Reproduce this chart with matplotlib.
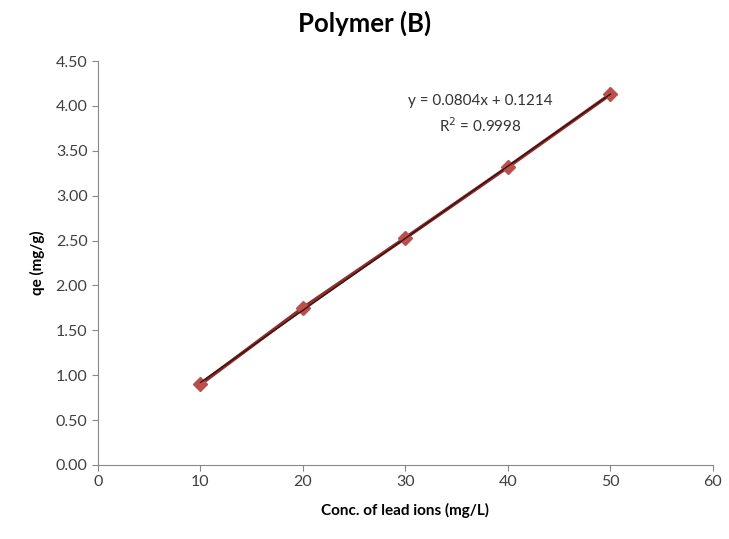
import numpy as np
import matplotlib.pyplot as plt

plt.rcParams['font.family'] = ['Lato', 'DejaVu Sans']

# data
conc = [10, 20, 30, 40, 50]
qe = [0.90, 1.75, 2.53, 3.32, 4.13]
x_ticks = [0, 10, 20, 30, 40, 50, 60]
y_ticks = [0.0, 0.5, 1.0, 1.5, 2.0, 2.5, 3.0, 3.5, 4.0, 4.5]

fig = plt.figure(figsize=(7.29, 5.39), dpi=100)
ax = fig.add_axes([0.1344, 0.1373, 0.8436, 0.7495])

# series line + markers
ax.plot(conc, qe, color='#8B2E2C', linewidth=2.6, marker='D', markersize=7,
        markerfacecolor='#B9504C', markeredgecolor='#B9504C', zorder=3)
# linear trendline
k, b = np.polyfit(conc, qe, 1)
xs = np.array([conc[0], conc[-1]])
ax.plot(xs, k * xs + b, color='#3a1010', linewidth=1.0, zorder=4)

ax.text(37.3, 4.06, 'y = 0.0804x + 0.1214', ha='center', va='center', fontsize=11, color='#333333')
ax.text(37.3, 3.78, 'R$^2$ = 0.9998', ha='center', va='center', fontsize=11, color='#333333')

ax.set_xlim(0, 60)
ax.set_ylim(0, 4.5)
ax.set_xticks(x_ticks)
ax.set_yticks(y_ticks)
ax.set_yticklabels(['%.2f' % v for v in y_ticks])
ax.tick_params(labelsize=11.5, length=4, color='#888888')
for t in ax.get_xticklabels() + ax.get_yticklabels():
    t.set_color('#404040')
for s in ['top', 'right']:
    ax.spines[s].set_visible(False)
for s in ['left', 'bottom']:
    ax.spines[s].set_color('#888888')

ax.set_xlabel('Conc. of lead ions (mg/L)', fontsize=11, fontweight='bold', labelpad=10)
ax.set_ylabel('qe (mg/g)', fontsize=11, fontweight='bold', labelpad=8)
fig.suptitle('Polymer (B)', fontsize=18.5, fontweight='bold', y=0.98)

fig.savefig('out.png', dpi=100)
